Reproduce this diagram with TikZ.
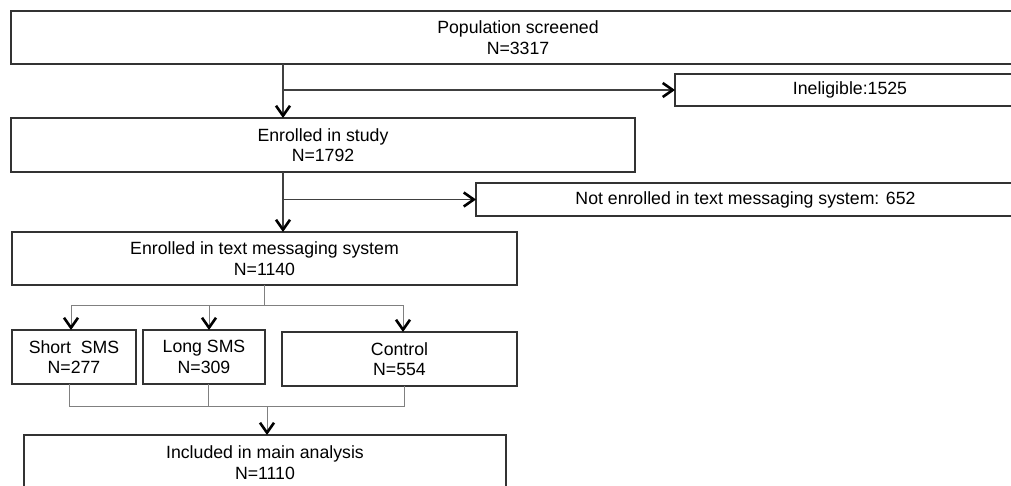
\documentclass[tikz,border=0pt]{standalone}
\usepackage{fontspec}
\setmainfont{Liberation Sans}
\usetikzlibrary{positioning, arrows.meta}

\begin{document}
\begin{tikzpicture}[x=1pt, y=-1pt,
  box/.style={draw=black!80, line width=1.2pt, rectangle, inner sep=0pt, outer sep=0pt, align=center, font=\fontsize{17.7}{20.5}\selectfont},
  link/.style={draw=black!75, line width=1.1pt},
  thin link/.style={draw=black!50, line width=1pt},
  arrow/.style={-{Straight Barb[length=10pt, width=14pt, line width=2.6pt, color=black]}}]
\useasboundingbox (0,0) rectangle (1011,486);
\clip (0,0) rectangle (1011,486);
\node[box, minimum width=1014pt, minimum height=53pt] (pop) at (518,37.5) {Population screened\\N=3317};
\node[box, minimum width=350pt, minimum height=32pt] (inel) at (850,90) {Ineligible:1525};
\node[box, minimum width=624pt, minimum height=54pt] (study) at (323,145) {Enrolled in study\\N=1792};
\node[box, minimum width=539pt, minimum height=33pt] (noten) at (745.5,199.5) {Not enrolled in text messaging system: 652};
\node[box, minimum width=505pt, minimum height=53pt] (textsys) at (264.5,258.5) {Enrolled in text messaging system\\N=1140};
\node[box, minimum width=124pt, minimum height=54pt] (short) at (74,357) {Short\ \ SMS\\N=277};
\node[box, minimum width=122pt, minimum height=54pt] (long) at (204,357) {Long SMS\\N=309};
\node[box, minimum width=235pt, minimum height=54pt] (control) at (399.5,359) {Control\\N=554};
\node[box, minimum width=482pt, minimum height=55pt] (incl) at (265,462.5) {Included in main analysis\\N=1110};
% branch points
\coordinate (b1) at (283,90);
\coordinate (b2) at (283,199.5);
\coordinate (split) at (264.5,305);
\coordinate (s1) at (71,305);
\coordinate (s2) at (209,305);
\coordinate (s3) at (403,305);
\coordinate (j1) at (69,406);
\coordinate (j2) at (208,406);
\coordinate (j3) at (404,406);
\coordinate (jm) at (267,406);
% screening
\draw[link, arrow] (pop.south -| b1) -- (study.north -| b1);
\draw[link, arrow] (b1) -- (inel.west);
\draw[link, arrow] (study.south -| b2) -- (textsys.north -| b2);
\draw[link, arrow] (b2) -- (noten.west);
% randomisation
\draw[thin link] (textsys.south) -- (split);
\draw[thin link] (s1) -- (s3);
\draw[thin link, arrow] (s1) -- (s1 |- short.north);
\draw[thin link, arrow] (s2) -- (s2 |- long.north);
\draw[thin link, arrow] (s3) -- (s3 |- control.north);
% analysis
\draw[thin link] (short.south -| j1) -- (j1) -- (j3) -- (control.south -| j3);
\draw[thin link] (long.south -| j2) -- (j2);
\draw[thin link, arrow] (jm) -- (incl.north -| jm);
\end{tikzpicture}
\end{document}
